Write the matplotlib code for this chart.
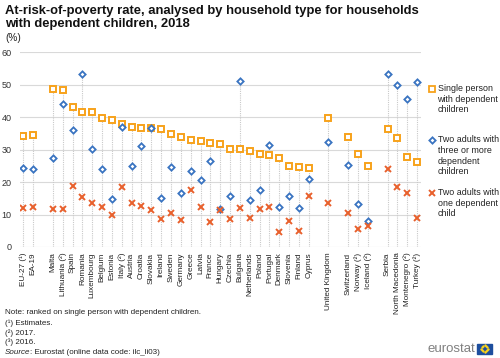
import matplotlib
matplotlib.use("Agg")
import matplotlib.pyplot as plt
import numpy as np
from matplotlib.lines import Line2D
from matplotlib.patches import Rectangle

plt.rcParams['font.family'] = ['Liberation Sans', 'DejaVu Sans']

# ---- data ----
categories = ["EU-27 (¹)", "EA-19", "",
              "Malta", "Lithuania (²)", "Spain", "Romania", "Luxembourg", "Belgium",
              "Estonia", "Italy (²)", "Austria", "Croatia", "Slovakia", "Ireland",
              "Sweden", "Germany", "Greece", "Latvia", "France", "Hungary", "Czechia",
              "Bulgaria", "Netherlands", "Poland", "Portugal", "Denmark", "Slovenia",
              "Finland", "Cyprus", "",
              "United Kingdom", "",
              "Switzerland", "Norway (²)", "Iceland (²)", "",
              "Serbia", "North Macedonia", "Montenegro (²)", "Turkey (²)"]

single = [34.3, 34.6, None,
          48.7, 48.4, 43.0, 41.6, 41.6, 39.9, 39.0, 37.9, 36.9, 36.8, 36.7, 36.4,
          34.7, 33.9, 32.9, 32.7, 32.2, 31.6, 30.3, 30.2, 29.6, 28.7, 28.4, 27.4,
          24.9, 24.6, 24.3, None,
          39.9, None,
          33.9, 28.7, 25.0, None,
          36.5, 33.6, 27.6, 26.1]

three_plus = [24.4, 24.1, None,
              27.3, 44.2, 36.0, 53.2, 30.1, 23.9, 14.7, 37.0, 25.1, 31.0, 36.7, 15.2,
              24.6, 16.7, 23.4, 20.7, 26.6, 11.7, 15.6, 51.1, 14.6, 17.6, 31.5, 12.4,
              15.8, 11.9, 21.1, None,
              32.4, None,
              25.4, 13.1, 8.0, None,
              53.4, 50.0, 45.7, 50.8]

one_child = [12.1, 12.3, None,
             11.6, 11.6, 18.8, 15.4, 13.6, 12.2, 9.9, 18.4, 13.7, 12.5, 11.3, 8.6,
             10.5, 8.3, 17.7, 12.2, 7.8, 11.4, 8.5, 11.9, 9.0, 11.6, 12.4, 4.7,
             7.9, 4.9, 15.7, None,
             13.6, None,
             10.4, 5.6, 6.6, None,
             24.1, 18.4, 16.5, 9.0]

series_names = ["Single person\nwith dependent\nchildren",
                "Two adults with\nthree or more\ndependent\nchildren",
                "Two adults with\none dependent\nchild"]

# ---- styles ----
c_orange = '#F7A21B'
c_blue = '#3A74C1'
c_red = '#E8602C'

W, H = 500, 358
fig = plt.figure(figsize=(W / 100, H / 100), dpi=100)

def px(x, y):
    return x / W, 1 - y / H

ax_left, ax_right = 20, 421
ax_top, ax_bot = 52.3, 247
ax = fig.add_axes([ax_left / W, 1 - ax_bot / H, (ax_right - ax_left) / W, (ax_bot - ax_top) / H])

x = np.arange(len(categories))
def arr(v):
    return np.array([np.nan if a is None else a for a in v], dtype=float)
s1, s2, s3 = arr(single), arr(three_plus), arr(one_child)

# drop lines
tops = np.nanmax(np.vstack([s1, s2, s3]), axis=0)
for xi, t in zip(x, tops):
    if not np.isnan(t):
        ax.plot([xi, xi], [0, t], color='#c9c9c9', lw=0.8, ls=(0, (1, 1)), zorder=1)

ax.plot(x, s1, ls='none', marker='s', ms=4.6, mfc='white', mec=c_orange, mew=1.4, zorder=3)
ax.plot(x, s2, ls='none', marker='D', ms=3.2, mfc='white', mec=c_blue, mew=1.3, zorder=4)
ax.plot(x, s3, ls='none', marker='x', ms=4.0, color=c_red, mew=1.4, zorder=5)

ax.set_ylim(0, 60)
ax.set_xlim(-0.34, 40.4)
ax.set_yticks(range(0, 61, 10))
ax.yaxis.grid(True, color='#d9d9d9', lw=0.8)
ax.set_axisbelow(True)
for sp in ax.spines.values():
    sp.set_visible(False)
ax.tick_params(axis='y', length=0, labelsize=6.5, labelcolor='#333333', pad=6)
ax.set_xticks(x)
ax.set_xticklabels(categories, rotation=90, fontsize=5.9, color='#222222')
ax.tick_params(axis='x', length=0, pad=4)

# title
fig.text(*px(5, 11), "At-risk-of-poverty rate, analysed by household type for households",
         fontsize=9.4, fontweight='bold', va='center', ha='left', color='#111111')
fig.text(*px(5, 24), "with dependent children, 2018",
         fontsize=9.4, fontweight='bold', va='center', ha='left', color='#111111')
fig.text(*px(5, 38), "(%)", fontsize=7.2, va='center', ha='left', color='#222222')

# legend (manual)
leg_items = [(c_orange, 's', 4.6, 'white', 89),
             (c_blue, 'D', 3.2, 'white', 140),
             (c_red, 'x', 4.0, None, 193)]
for (col, mk, ms, fc, yy), name in zip(leg_items, series_names):
    mx, my = px(432, yy)
    if mk == 'x':
        fig.add_artist(Line2D([mx], [my], marker=mk, ms=ms, color=col, mew=1.4, ls='none',
                              transform=fig.transFigure))
    else:
        fig.add_artist(Line2D([mx], [my], marker=mk, ms=ms, mfc=fc, mec=col, mew=1.3, ls='none',
                              transform=fig.transFigure))
    tx, ty = px(437.5, yy - 5)
    fig.text(tx, ty, name, fontsize=6.4, va='top', ha='left', color='#222222', linespacing=1.25)

# notes
notes_y = [313, 323, 333, 342.5]
notes = ["Note: ranked on single person with dependent children.",
         "(¹) Estimates.", "(²) 2017.", "(³) 2016."]
for yy, t in zip(notes_y, notes):
    fig.text(*px(5, yy), t, fontsize=5.8, va='center', ha='left', color='#222222')
sx, sy = px(5, 352)
t1 = fig.text(sx, sy, "Source", fontsize=5.8, style='italic', va='center', ha='left', color='#222222')
fig.canvas.draw()
bb = t1.get_window_extent()
fig.text(bb.x1 / W, sy, ": Eurostat (online data code: ilc_li03)", fontsize=5.8,
         va='center', ha='left', color='#222222')

# eurostat logo
fig.text(*px(475, 349), "eurostat", fontsize=9.5, va='center', ha='right', color='#808080')
fx0, fy0 = px(477, 353.5)
fw, fh = 15 / W, 10 / H
fig.add_artist(Rectangle((fx0, fy0), fw, fh, transform=fig.transFigure, color='#1d4e9e'))
cx, cy = fx0 + fw / 2, fy0 + fh / 2
for k in range(12):
    a = 2 * np.pi * k / 12
    fig.add_artist(Line2D([cx + 3.2 / W * np.cos(a)], [cy + 3.2 / H * np.sin(a)], marker='o',
                          ms=0.7, color='#ffd617', ls='none', transform=fig.transFigure))

fig.savefig("out.png", dpi=100)
